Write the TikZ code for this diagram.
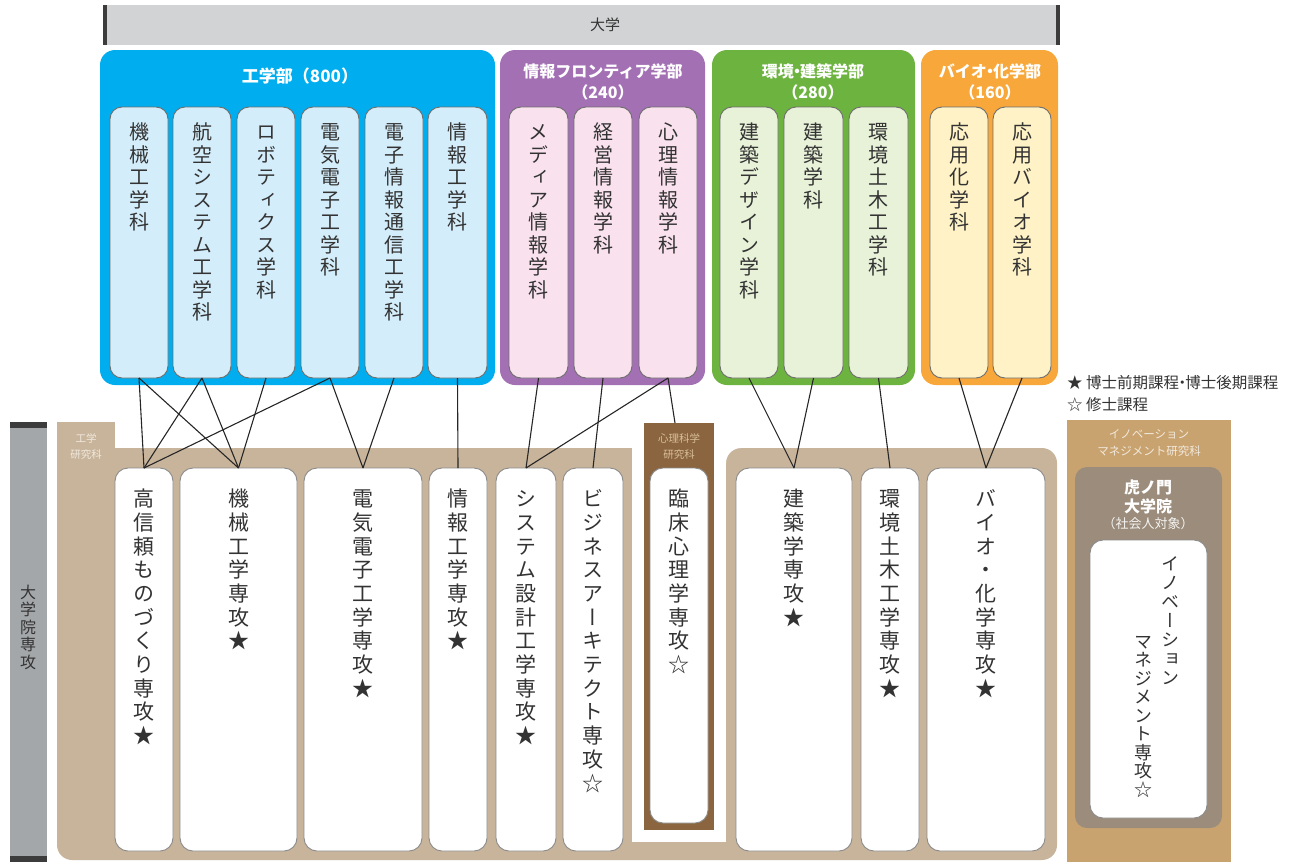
\documentclass[tikz,border=0pt]{standalone}
\usepackage{fontspec}
\usepackage{graphicx}
\setmainfont{Noto Sans CJK JP}
\newfontfamily\jp{Noto Sans CJK JP}
\newfontfamily\jpv[RawFeature=+vert]{Noto Sans CJK JP}
\definecolor{barGray}{HTML}{D1D3D4}
\definecolor{edgeDark}{HTML}{3C3C3C}
\definecolor{cBlue}{HTML}{00AEEF}
\definecolor{cBlueL}{HTML}{D4EDFA}
\definecolor{cPurp}{HTML}{A370B4}
\definecolor{cPurpL}{HTML}{F9E1EE}
\definecolor{cGreen}{HTML}{6DB33F}
\definecolor{cGreenL}{HTML}{E7F2D8}
\definecolor{cOrange}{HTML}{F8A73A}
\definecolor{cOrangeL}{HTML}{FEF2C6}
\definecolor{beigeB}{HTML}{C8B49B}
\definecolor{sideGray}{HTML}{A4A7AA}
\definecolor{brownB}{HTML}{8A6540}
\definecolor{tanB}{HTML}{C9A36F}
\definecolor{innerB}{HTML}{9B8C7C}
\definecolor{txt}{HTML}{333333}
\definecolor{subEdge}{HTML}{6E6E6E}
\definecolor{gradEdge}{HTML}{8A8A8A}
\definecolor{lightLbl}{HTML}{F1E9DD}
\definecolor{brownLbl}{HTML}{D9BF9B}
\makeatletter
\newcommand\V[2]{\vbox{\baselineskip=#1\lineskip=0pt\lineskiplimit=-\maxdimen
  \@tfor\vtok:=#2\do{\hbox to 1em{\hss\vrule height .88em depth .12em width 0pt\vtok\hss}}}}
\makeatother
\newcommand\md{\kern-.3em・\kern-.3em}
\newcommand\bx[6]{\node[#1, inner sep=0pt, outer sep=0pt,
  minimum width={(#5-#3)*1pt}, minimum height={(#6-#4)*1pt}] (#2) at ({(#3+#5)/2},{(#4+#6)/2}) {};}
\tikzset{
  deptbox/.style={fill=#1, rounded corners=15pt},
  subbox/.style={fill=#1, draw=subEdge, line width=0.9pt, rounded corners=12pt},
  gradbox/.style={fill=white, draw=gradEdge, line width=0.9pt, rounded corners=13pt},
  subtext/.style={anchor=north, inner sep=0pt, text=txt, font={\jpv\fontsize{20}{22}\selectfont}},
  gradtext/.style={anchor=north, inner sep=0pt, text=txt, font={\jpv\fontsize{21}{23}\selectfont}},
  depttitle/.style={text=white, inner sep=0pt, align=center, font={\jp\bfseries\fontsize{16}{21}\selectfont}},
  conn/.style={draw=black!85, line width=1.1pt},
  smalllbl/.style={inner sep=0pt, align=center, font={\jp\fontsize{10.5}{16}\selectfont}},
  legendtext/.style={anchor=west, inner sep=0pt, text=txt, font={\jp\fontsize{15.5}{17}\selectfont}},
}
\begin{document}
\begin{tikzpicture}[x=1pt,y=-1pt]
\useasboundingbox (0,0) rectangle (1297,862);
% top bar
\fill[barGray] (103,5) rectangle (1060,45);
\fill[edgeDark] (103,5) rectangle (107,45);
\fill[edgeDark] (1056,5) rectangle (1060,45);
\node[text=txt, inner sep=0pt, font={\jp\fontsize{15}{18}\selectfont}] (univ) at (605,25) {大学};
% faculties
\bx{deptbox=cBlue}{eng}{100}{50}{495}{385}
\bx{deptbox=cPurp}{inf}{500}{50}{705}{385}
\bx{deptbox=cGreen}{env}{712}{50}{915}{385}
\bx{deptbox=cOrange}{bio}{921}{50}{1058}{385}
\node[depttitle, font={\jp\bfseries\fontsize{17}{21}\selectfont}] (tEng) at (300,76) {工学部（800）};
\node[depttitle] (tInf) at (603,82) {情報フロンティア学部\\（240）};
\node[depttitle] (tEnv) at (813,82) {環境\md 建築学部\\（280）};
\node[depttitle] (tBio) at (990,82) {バイオ\md 化学部\\（160）};
% departments
\bx{subbox=cBlueL}{e1}{110}{107}{168}{378}
\bx{subbox=cBlueL}{e2}{173}{107}{231}{378}
\bx{subbox=cBlueL}{e3}{237}{107}{295}{378}
\bx{subbox=cBlueL}{e4}{301}{107}{359}{378}
\bx{subbox=cBlueL}{e5}{365}{107}{423}{378}
\bx{subbox=cBlueL}{e6}{428}{107}{487}{378}
\bx{subbox=cPurpL}{i1}{509}{107}{568}{378}
\bx{subbox=cPurpL}{i2}{574}{107}{632}{378}
\bx{subbox=cPurpL}{i3}{639}{107}{697}{378}
\bx{subbox=cGreenL}{v1}{720}{107}{778}{378}
\bx{subbox=cGreenL}{v2}{784}{107}{843}{378}
\bx{subbox=cGreenL}{v3}{849}{107}{908}{378}
\bx{subbox=cOrangeL}{b1}{930}{107}{988}{378}
\bx{subbox=cOrangeL}{b2}{993}{107}{1051}{378}
\node[subtext] (te1) at ([yshift=-15pt]e1.north) {\V{22.5pt}{機械工学科}};
\node[subtext] (te2) at ([yshift=-15pt]e2.north) {\V{22.5pt}{航空システム工学科}};
\node[subtext] (te3) at ([yshift=-15pt]e3.north) {\V{22.5pt}{ロボティクス学科}};
\node[subtext] (te4) at ([yshift=-15pt]e4.north) {\V{22.5pt}{電気電子工学科}};
\node[subtext] (te5) at ([yshift=-15pt]e5.north) {\V{22.5pt}{電子情報通信工学科}};
\node[subtext] (te6) at ([yshift=-15pt]e6.north) {\V{22.5pt}{情報工学科}};
\node[subtext] (ti1) at ([yshift=-15pt]i1.north) {\V{22.5pt}{メディア情報学科}};
\node[subtext] (ti2) at ([yshift=-15pt]i2.north) {\V{22.5pt}{経営情報学科}};
\node[subtext] (ti3) at ([yshift=-15pt]i3.north) {\V{22.5pt}{心理情報学科}};
\node[subtext] (tv1) at ([yshift=-15pt]v1.north) {\V{22.5pt}{建築デザイン学科}};
\node[subtext] (tv2) at ([yshift=-15pt]v2.north) {\V{22.5pt}{建築学科}};
\node[subtext] (tv3) at ([yshift=-15pt]v3.north) {\V{22.5pt}{環境土木工学科}};
\node[subtext] (tb1) at ([yshift=-15pt]b1.north) {\V{22.5pt}{応用化学科}};
\node[subtext] (tb2) at ([yshift=-15pt]b2.north) {\V{22.5pt}{応用バイオ学科}};
% left side bar
\fill[sideGray] (10,422) rectangle (47,862);
\fill[edgeDark] (10,422) rectangle (47,428);
\fill[edgeDark] (10,856) rectangle (47,862);
\node[anchor=north, inner sep=0pt, text=txt, font={\jpv\fontsize{16}{18}\selectfont}] (side) at (28,584) {\V{17.5pt}{大学院専攻}};
% graduate school background
\fill[beigeB, rounded corners=15pt] (57,448) rectangle (1057,860);
\fill[beigeB] (57,422) rectangle (115,470);
\node[smalllbl, text=lightLbl] (lblEng) at (86,446) {工学\\研究科};
\fill[white] (632,416) rectangle (726,842);
\fill[white] (726,448) -- (741,448) arc[start angle=90, end angle=180, radius=15pt] -- cycle;
\fill[brownB] (644,423) rectangle (714,830);
\node[smalllbl, text=brownLbl] (lblPsy) at (679,446) {心理科学\\研究科};
% innovation
\fill[tanB] (1067,420) rectangle (1231,862);
\node[smalllbl, text=lightLbl, font={\jp\fontsize{11.5}{17}\selectfont}] (lblInn) at (1149,443) {イノベーション\\マネジメント研究科};
\fill[innerB, rounded corners=12pt] (1075,467) rectangle (1222,828);
\node[inner sep=0pt, align=center, text=white, font={\jp\bfseries\fontsize{16}{19}\selectfont}] (tora) at (1148,497) {虎ノ門\\大学院};
\node[inner sep=0pt, text=white!90!innerB, font={\jp\fontsize{13}{15}\selectfont}] (shakai) at (1148,524) {（社会人対象）};
% graduate majors
\bx{gradbox}{g1}{115}{468}{173}{851}
\bx{gradbox}{g2}{180}{468}{297}{851}
\bx{gradbox}{g3}{304}{468}{422}{851}
\bx{gradbox}{g4}{429}{468}{487}{851}
\bx{gradbox}{g5}{496}{468}{556}{851}
\bx{gradbox}{g6}{563}{468}{623}{851}
\bx{gradbox}{g7}{650}{468}{708}{823}
\bx{gradbox}{g8}{736}{468}{852}{851}
\bx{gradbox}{g9}{861}{468}{919}{851}
\bx{gradbox}{g10}{927}{468}{1045}{851}
\bx{gradbox}{g11}{1090}{540}{1207}{818}
\node[gradtext] (tg1) at ([yshift=-20pt]g1.north) {\V{23.7pt}{高信頼ものづくり専攻★}};
\node[gradtext] (tg2) at ([yshift=-20pt]g2.north) {\V{23.7pt}{機械工学専攻★}};
\node[gradtext] (tg3) at ([yshift=-20pt]g3.north) {\V{23.7pt}{電気電子工学専攻★}};
\node[gradtext] (tg4) at ([yshift=-20pt]g4.north) {\V{23.7pt}{情報工学専攻★}};
\node[gradtext] (tg5) at ([yshift=-20pt]g5.north) {\V{23.7pt}{システム設計工学専攻★}};
\node[gradtext] (tg6) at ([yshift=-20pt]g6.north) {\V{23.7pt}{ビジネスアーキテクト専攻☆}};
\node[gradtext] (tg7) at ([yshift=-20pt]g7.north) {\V{23.7pt}{臨床心理学専攻☆}};
\node[gradtext] (tg8) at ([yshift=-20pt]g8.north) {\V{23.7pt}{建築学専攻★}};
\node[gradtext] (tg9) at ([yshift=-20pt]g9.north) {\V{23.7pt}{環境土木工学専攻★}};
\node[gradtext] (tg10) at ([yshift=-20pt]g10.north) {\V{23.7pt}{バイオ・化学専攻★}};
\node[gradtext, font={\jpv\fontsize{18}{20}\selectfont}] (tg11a) at (1170,554) {\V{19pt}{イノベーション}};
\node[gradtext, font={\jpv\fontsize{18}{20}\selectfont}] (tg11b) at (1143,632) {\V{18.5pt}{マネジメント専攻☆}};
% legend
\node[legendtext] (leg1) at (1067,383) {★ 博士前期課程\md 博士後期課程};
\node[legendtext] (leg2) at (1067,405) {☆ 修士課程};
% connectors
\draw[conn] (e1.south) -- (g1.north);
\draw[conn] (e1.south) -- (g2.north);
\draw[conn] (e2.south) -- (g1.north);
\draw[conn] (e2.south) -- (g2.north);
\draw[conn] (e3.south) -- (g2.north);
\draw[conn] (e4.south) -- (g1.north);
\draw[conn] (e4.south) -- (g3.north);
\draw[conn] (e5.south) -- (g3.north);
\draw[conn] (e6.south) -- (g4.north);
\draw[conn] (i1.south) -- (g5.north);
\draw[conn] (i2.south) -- (g6.north);
\draw[conn] (i3.south) -- (g5.north);
\draw[conn] (i3.south) -- ([xshift=7pt]i3.south |- 0,423);
\draw[conn] (v1.south) -- (g8.north);
\draw[conn] (v2.south) -- (g8.north);
\draw[conn] (v3.south) -- (g9.north);
\draw[conn] (b1.south) -- (g10.north);
\draw[conn] (b2.south) -- (g10.north);
\end{tikzpicture}
\end{document}
